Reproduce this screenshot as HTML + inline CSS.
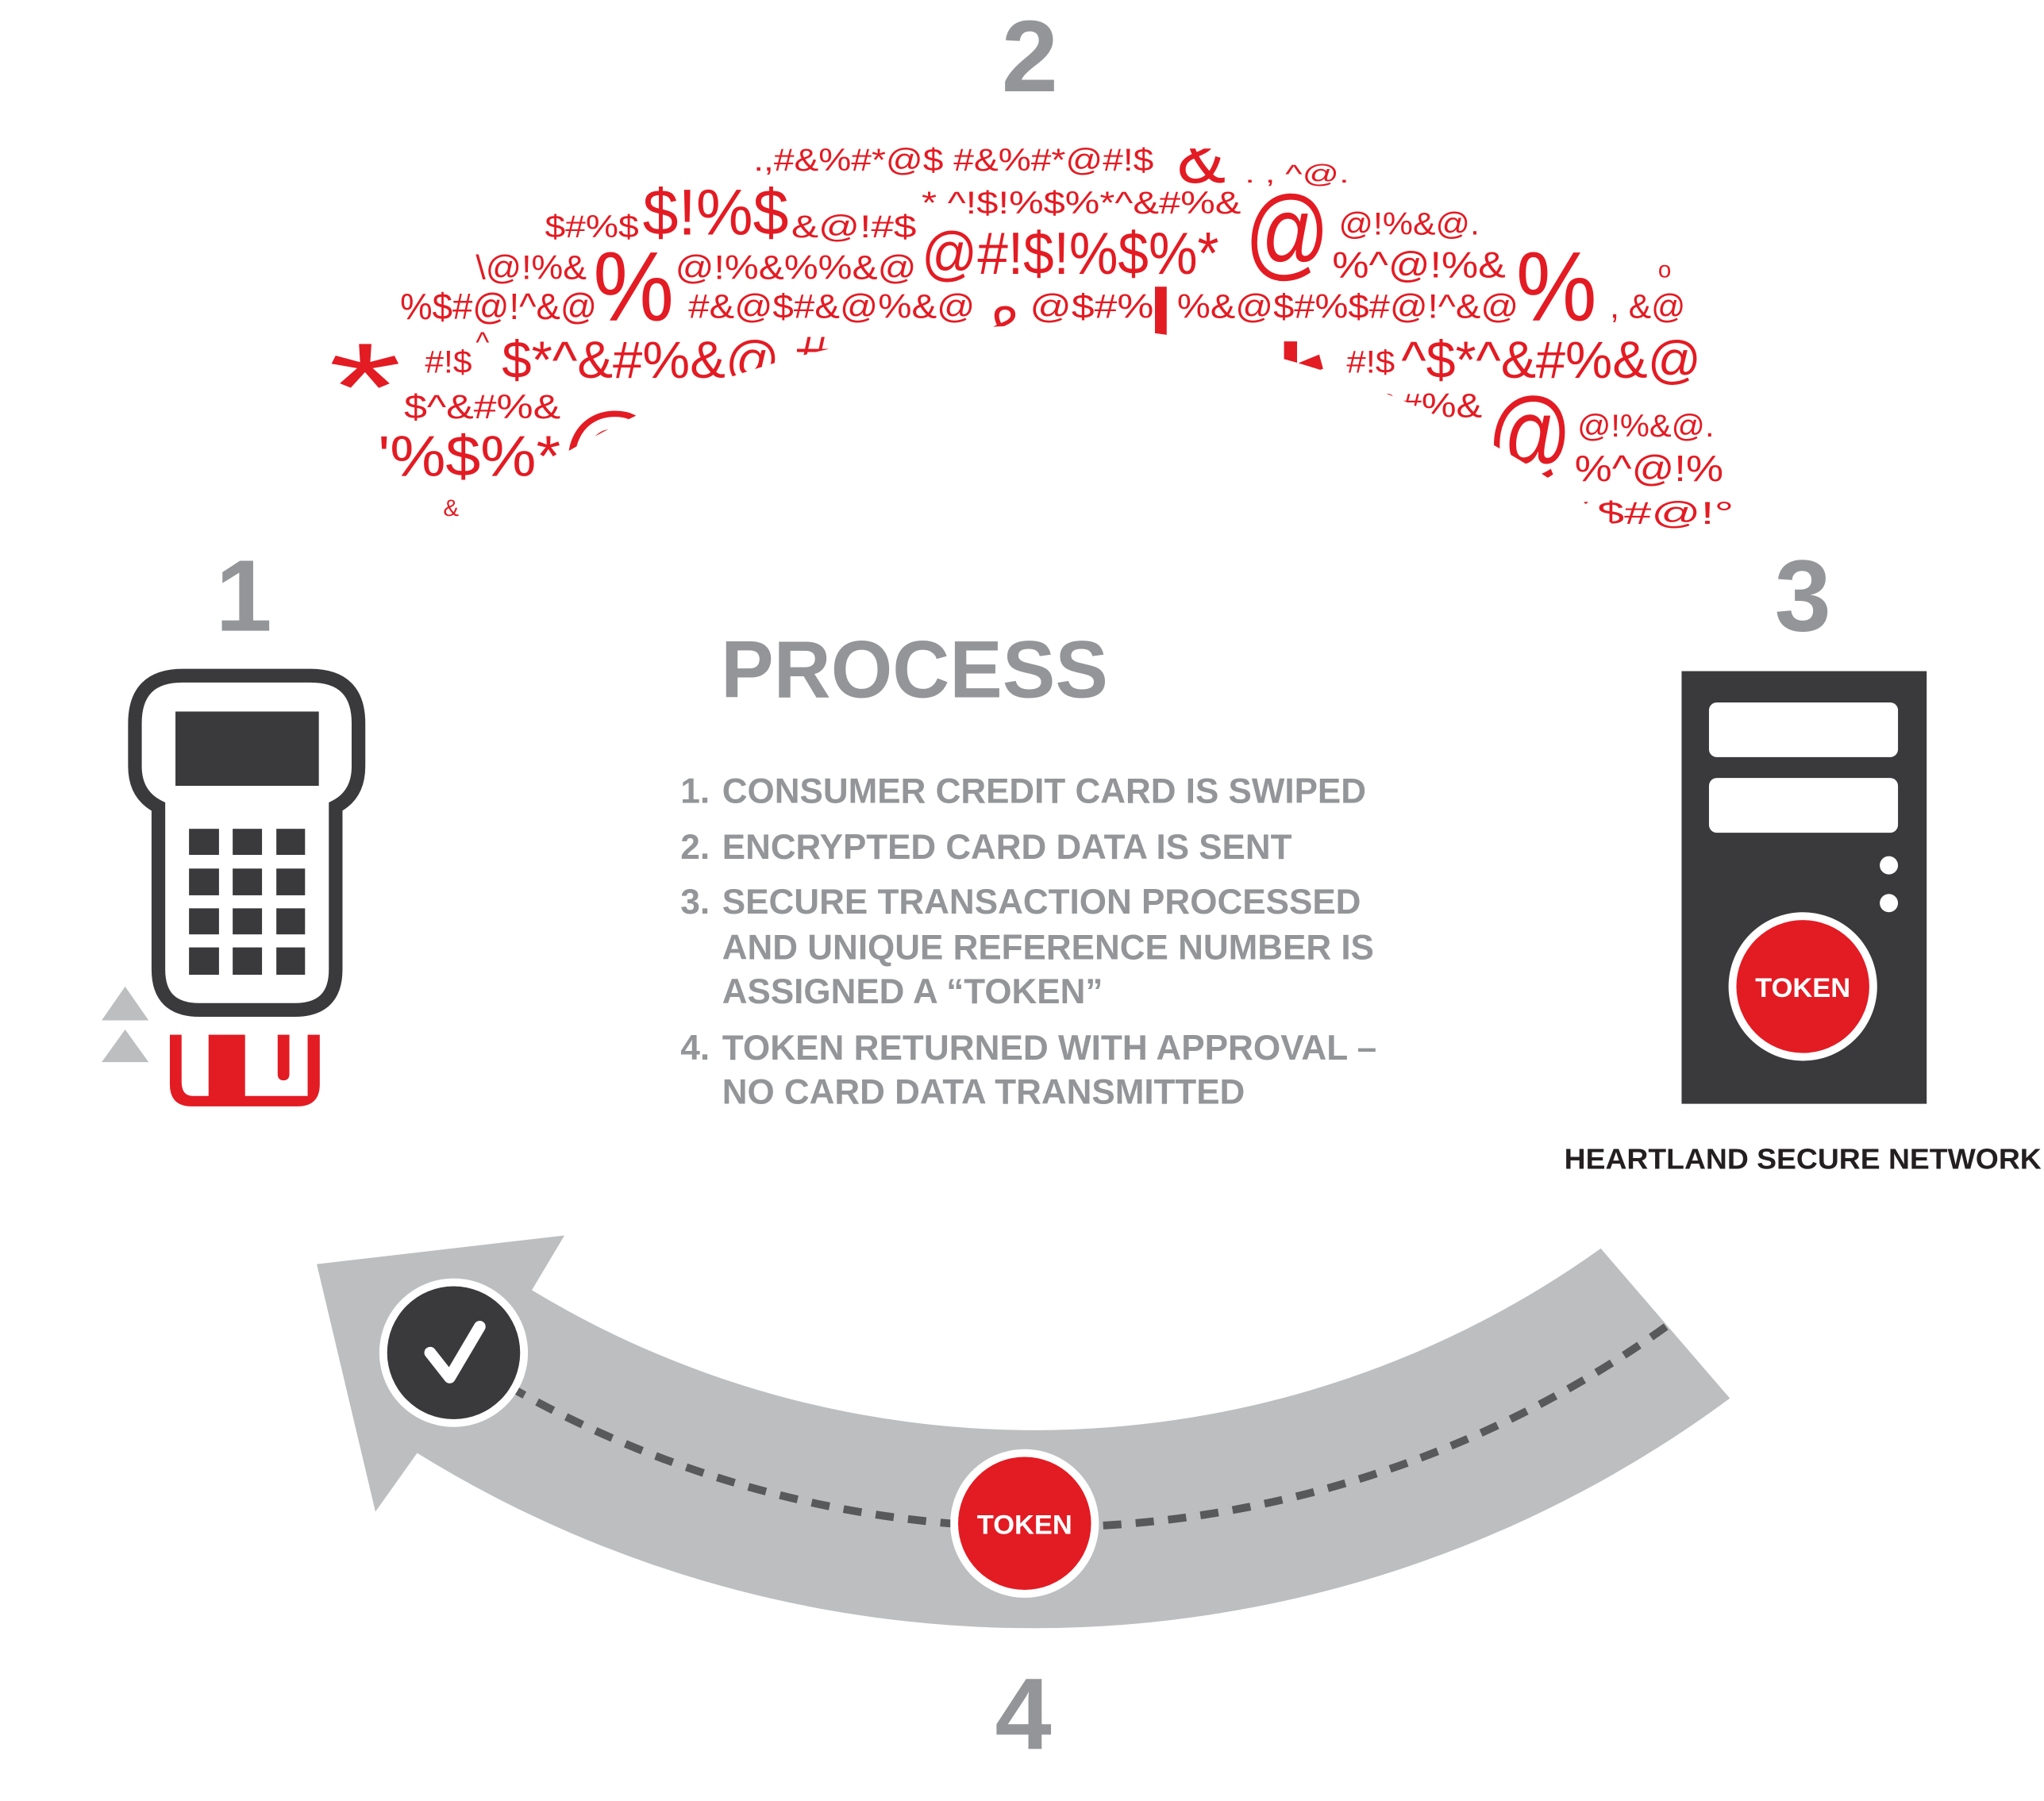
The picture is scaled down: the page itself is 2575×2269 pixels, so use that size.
<!DOCTYPE html>
<html><head><meta charset="utf-8"><style>html,body{margin:0;padding:0;background:#fff;width:2575px;height:2269px;overflow:hidden;position:relative}svg{display:block;position:absolute;left:0;top:0}</style></head>
<body>
<svg width="2575" height="2269" viewBox="0 0 1568 1382" preserveAspectRatio="none" xmlns="http://www.w3.org/2000/svg" font-family="Liberation Sans, Arial, sans-serif" overflow="hidden">
<rect width="1568" height="1382" fill="#fff"/>
<g fill="#e31b23">
<text x="578" y="131" font-size="24" textLength="307" lengthAdjust="spacingAndGlyphs">.,#&amp;%#*@$  #&amp;%#*@#!$</text>
<text x="903" y="140" font-size="56">&amp;</text>
<text x="955" y="140" font-size="20" textLength="80" lengthAdjust="spacingAndGlyphs">. , ^@.</text>
<text x="418" y="182" font-size="24" textLength="72" lengthAdjust="spacingAndGlyphs">$#%$</text>
<text x="493" y="180" font-size="50" textLength="112" lengthAdjust="spacingAndGlyphs">$!%$</text>
<text x="607" y="182" font-size="24" textLength="96" lengthAdjust="spacingAndGlyphs">&amp;@!#$</text>
<text x="707" y="164" font-size="24" textLength="245" lengthAdjust="spacingAndGlyphs">* ^!$!%$%*^&amp;#%&amp;</text>
<text x="365" y="214" font-size="26" textLength="85" lengthAdjust="spacingAndGlyphs">\@!%&amp;</text>
<text x="455" y="246" font-size="76" textLength="62" lengthAdjust="spacingAndGlyphs">%</text>
<text x="518" y="214" font-size="26" textLength="185" lengthAdjust="spacingAndGlyphs">@!%&amp;%%&amp;@</text>
<text x="707" y="210" font-size="46" textLength="228" lengthAdjust="spacingAndGlyphs">@#!$!%$%*</text>
<text x="955" y="205" font-size="78" textLength="65" lengthAdjust="spacingAndGlyphs">@</text>
<text x="1027" y="180" font-size="24" textLength="108" lengthAdjust="spacingAndGlyphs">@!%&amp;@.</text>
<text x="1022" y="213" font-size="28" textLength="133" lengthAdjust="spacingAndGlyphs">%^@!%&amp;</text>
<text x="1163" y="246" font-size="76" textLength="62" lengthAdjust="spacingAndGlyphs">%</text>
<text x="1272" y="213" font-size="18">o</text>
<text x="307" y="245" font-size="28" textLength="151" lengthAdjust="spacingAndGlyphs">%$#@!^&amp;@</text>
<text x="528" y="244" font-size="26" textLength="220" lengthAdjust="spacingAndGlyphs">#&amp;@$#&amp;@%&amp;@</text>
<text x="755" y="268" font-size="48">&amp;</text>
<text x="790" y="244" font-size="26" textLength="95" lengthAdjust="spacingAndGlyphs">@$#%</text>
<rect x="886" y="220" width="9" height="52"/>
<text x="903" y="244" font-size="26" textLength="262" lengthAdjust="spacingAndGlyphs">%&amp;@$#%$#@!^&amp;@</text>
<text x="1235" y="244" font-size="26" textLength="58" lengthAdjust="spacingAndGlyphs">, &amp;@</text>
<text x="252" y="330" font-size="96" textLength="56" lengthAdjust="spacingAndGlyphs">*</text>
<text x="326" y="286" font-size="24" textLength="36" lengthAdjust="spacingAndGlyphs">#!$</text>
<text x="365" y="270" font-size="22">^</text>
<text x="385" y="290" font-size="40" textLength="213" lengthAdjust="spacingAndGlyphs">$*^&amp;#%&amp;@</text>
<text x="610" y="290" font-size="46">#</text>
<text x="910" y="282" font-size="20" textLength="45" lengthAdjust="spacingAndGlyphs">$#&amp;</text>
<polygon points="985,262 995,262 995,279 1012,272 1015,283 990,292 965,283 968,272 985,279"/>
<text x="1033" y="286" font-size="24" textLength="37" lengthAdjust="spacingAndGlyphs">#!$</text>
<text x="1075" y="290" font-size="40" textLength="230" lengthAdjust="spacingAndGlyphs">^$*^&amp;#%&amp;@</text>
<text x="310" y="321" font-size="26" textLength="120" lengthAdjust="spacingAndGlyphs">$^&amp;#%&amp;</text>
<text x="1030" y="320" font-size="26" textLength="107" lengthAdjust="spacingAndGlyphs">`^&amp;#%&amp;</text>
<text x="290" y="365" font-size="44" textLength="140" lengthAdjust="spacingAndGlyphs">'%$%*</text>
<text x="430" y="370" font-size="76">@</text>
<text x="1110" y="350" font-size="24">' *</text>
<text x="1141" y="360" font-size="78" textLength="65" lengthAdjust="spacingAndGlyphs">@</text>
<text x="1210" y="335" font-size="24" textLength="105" lengthAdjust="spacingAndGlyphs">@!%&amp;@.</text>
<text x="1208" y="369" font-size="28" textLength="114" lengthAdjust="spacingAndGlyphs">%^@!%</text>
<text x="340" y="396" font-size="18">&amp;</text>
<text x="1140" y="402" font-size="24" textLength="190" lengthAdjust="spacingAndGlyphs">,$#%$#@!°</text>
</g>
<path d="M331 420 A718 718 0 0 1 1259 420 Z" fill="#fff"/>
<rect x="890" y="90" width="70" height="24" fill="#fff"/>

<g fill="#939598" font-weight="bold" font-size="78" text-anchor="middle">
<text x="790" y="70">2</text>
<text x="187" y="484">1</text>
<text x="1383" y="484">3</text>
<text x="785" y="1342">4</text>
</g>

<text x="553" y="535" font-size="62" font-weight="bold" fill="#939598" textLength="297" lengthAdjust="spacingAndGlyphs">PROCESS</text>
<g fill="#939598" font-weight="bold" font-size="27">
<text x="522" y="616">1.</text>
<text x="554" y="616" textLength="494" lengthAdjust="spacingAndGlyphs">CONSUMER CREDIT CARD IS SWIPED</text>
<text x="522" y="659">2.</text>
<text x="554" y="659" textLength="437" lengthAdjust="spacingAndGlyphs">ENCRYPTED CARD DATA IS SENT</text>
<text x="522" y="701">3.</text>
<text x="554" y="701" textLength="490" lengthAdjust="spacingAndGlyphs">SECURE TRANSACTION PROCESSED</text>
<text x="554" y="736" textLength="500" lengthAdjust="spacingAndGlyphs">AND UNIQUE REFERENCE NUMBER IS</text>
<text x="554" y="770" textLength="292" lengthAdjust="spacingAndGlyphs">ASSIGNED A “TOKEN”</text>
<text x="522" y="813">4.</text>
<text x="554" y="813" textLength="502" lengthAdjust="spacingAndGlyphs">TOKEN RETURNED WITH APPROVAL –</text>
<text x="554" y="847" textLength="401" lengthAdjust="spacingAndGlyphs">NO CARD DATA TRANSMITTED</text>
</g>

<path d="M140 518.5 H238 Q275 518.5 275 555 V588 Q275 610 257.5 619 V744 Q257.5 775 226 775 H153 Q121.5 775 121.5 744 V619 Q103.5 610 103.5 588 V555 Q103.5 518.5 140 518.5 Z" fill="none" stroke="#3a3a3c" stroke-width="10.5"/>
<rect x="134.6" y="546" width="110" height="57" fill="#3a3a3c"/>
<g fill="#3a3a3c">
<rect x="145" y="636" width="23" height="20"/><rect x="178.5" y="636" width="22.5" height="20"/><rect x="212" y="636" width="22" height="20"/>
<rect x="145" y="666.5" width="23" height="20.5"/><rect x="178.5" y="666.5" width="22.5" height="20.5"/><rect x="212" y="666.5" width="22" height="20.5"/>
<rect x="145" y="697" width="23" height="20"/><rect x="178.5" y="697" width="22.5" height="20"/><rect x="212" y="697" width="22" height="20"/>
<rect x="145" y="727" width="23" height="21"/><rect x="178.5" y="727" width="22.5" height="21"/><rect x="212" y="727" width="22" height="21"/>
</g>
<g fill="#bcbec0">
<polygon points="96,757 114,783 78,783"/>
<polygon points="96,790 114,815 78,815"/>
</g>
<g fill="#e31b23">
<path d="M130.3 794 H139.3 V830 Q139.3 841 148 841 H236 Q236 841 236 830 V794 H245.3 V832 Q245.3 849 228 849 H147 Q130.3 849 130.3 832 Z"/>
<rect x="160" y="794" width="28" height="50"/>
<path d="M213 794 H222 V824 Q222 829 217.5 829 Q213 829 213 824 Z"/>
</g>

<rect x="1290" y="515" width="188" height="332" fill="#3a3a3c"/>
<rect x="1311" y="539" width="145" height="42" rx="6" fill="#fff"/>
<rect x="1311" y="597" width="145" height="42" rx="6" fill="#fff"/>
<circle cx="1449" cy="664" r="7" fill="#fff"/>
<circle cx="1449" cy="693" r="7" fill="#fff"/>
<circle cx="1383" cy="757" r="57" fill="#fff"/>
<circle cx="1383" cy="757" r="51" fill="#e31b23"/>
<text x="1383" y="765" text-anchor="middle" font-size="21" font-weight="bold" fill="#fff">TOKEN</text>
<text x="1200" y="897" font-size="22" font-weight="bold" fill="#231f20" textLength="366" lengthAdjust="spacingAndGlyphs">HEARTLAND SECURE NETWORK</text>

<path d="M1327 1073 A898 898 0 0 1 320 1115 L288 1160 L243 970 L433 948 L408 990 A746 746 0 0 0 1228 958 Z" fill="#bcbec0"/>
<path d="M1278 1018 A824 824 0 0 1 348 1038" fill="none" stroke="#58595b" stroke-width="6" stroke-dasharray="14 11"/>
<circle cx="348" cy="1038" r="57" fill="#fff"/>
<circle cx="348" cy="1038" r="51" fill="#3a3a3c"/>
<polyline points="330,1038 345,1057 368,1018" fill="none" stroke="#fff" stroke-width="9" stroke-linecap="round" stroke-linejoin="round"/>
<circle cx="786" cy="1169" r="57" fill="#fff"/>
<circle cx="786" cy="1169" r="51" fill="#e31b23"/>
<text x="786" y="1177" text-anchor="middle" font-size="21" font-weight="bold" fill="#fff">TOKEN</text>
</svg>
</body></html>
